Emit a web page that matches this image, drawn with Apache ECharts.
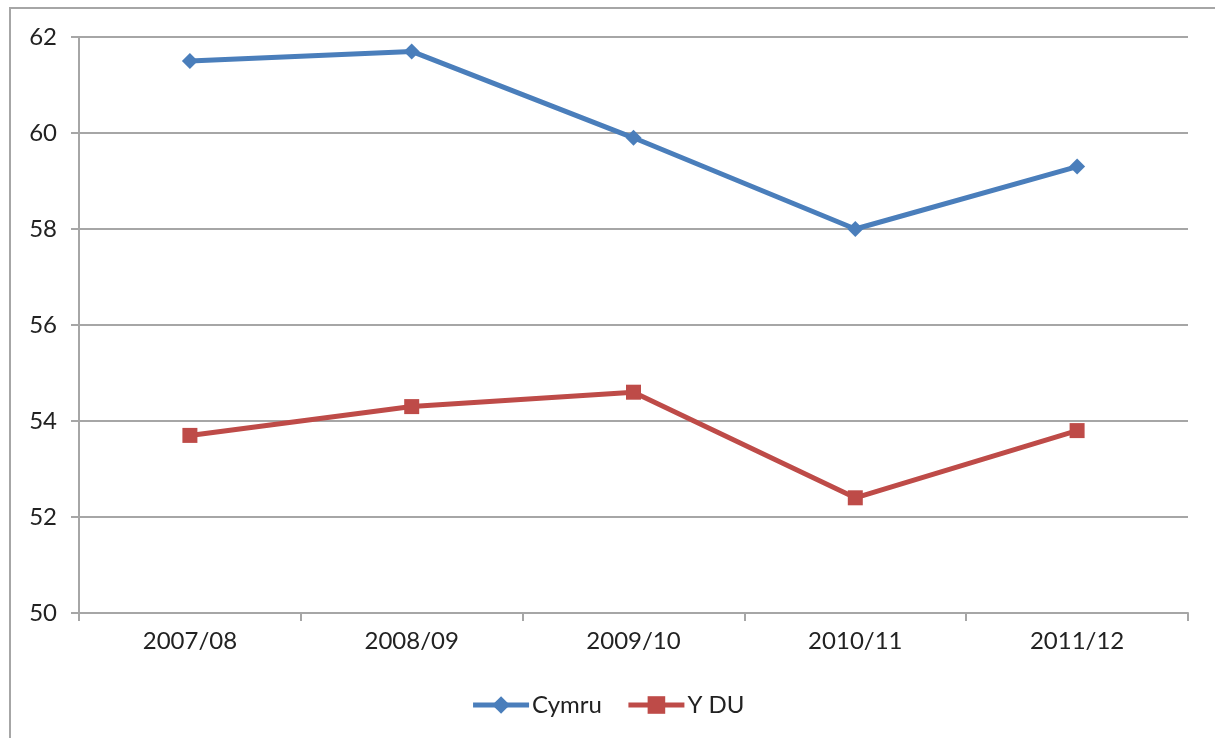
<!DOCTYPE html>
<html><head><meta charset="utf-8">
<script src="https://cdn.jsdelivr.net/npm/echarts@6/dist/echarts.min.js"></script>
<style>
html,body{margin:0;padding:0;background:#fff;}
#frame{position:absolute;left:9px;top:7px;width:1220px;height:740px;border-left:2px solid #a6a6a6;border-top:2px solid #a6a6a6;}
#c{position:absolute;left:0;top:0;width:1215px;height:738px;}
</style></head>
<body>
<div id="frame"></div>
<div id="c"></div>
<script>
const categories = ['2007/08','2008/09','2009/10','2010/11','2011/12'];
const cymru = [61.5, 61.7, 59.9, 58.0, 59.3];
const ydu = [53.7, 54.3, 54.6, 52.4, 53.8];
const yTicks = [50, 52, 54, 56, 58, 60, 62];

const chart = echarts.init(document.getElementById('c'));
const font = 'Lato, "Open Sans", sans-serif';
chart.setOption({
  animation:false,
  textStyle:{fontFamily:font},
  grid:{left:79, right:27, top:37, bottom:125},
  legend:{
    bottom:16, left:'center', itemWidth:56, itemHeight:22, itemGap:24,
    lineStyle:{width:5},
    textStyle:{fontSize:24, color:'#222', fontFamily:font, padding:[0,0,0,-2]},
    data:['Cymru','Y DU']
  },
  xAxis:{
    type:'category', data:categories, boundaryGap:true,
    axisLine:{lineStyle:{color:'#a6a6a6', width:2}},
    axisTick:{show:true, length:8, lineStyle:{color:'#a6a6a6', width:2}},
    axisLabel:{fontSize:24, color:'#222', margin:16, fontFamily:font}
  },
  yAxis:{
    type:'value', min:yTicks[0], max:yTicks[yTicks.length-1], interval:2,
    axisLine:{show:true, lineStyle:{color:'#a6a6a6', width:2}},
    axisTick:{show:true, length:8, lineStyle:{color:'#a6a6a6', width:2}},
    splitLine:{lineStyle:{color:'#a6a6a6', width:2}},
    axisLabel:{fontSize:24, color:'#222', margin:22, fontFamily:font}
  },
  series:[
    {name:'Cymru', type:'line', data:cymru, symbol:'diamond', symbolSize:16,
     lineStyle:{color:'#4a7ebb', width:5}, itemStyle:{color:'#4a7ebb'}},
    {name:'Y DU', type:'line', data:ydu, symbol:'rect', symbolSize:15,
     lineStyle:{color:'#be4b48', width:5}, itemStyle:{color:'#be4b48'}}
  ]
});
</script>
</body></html>
